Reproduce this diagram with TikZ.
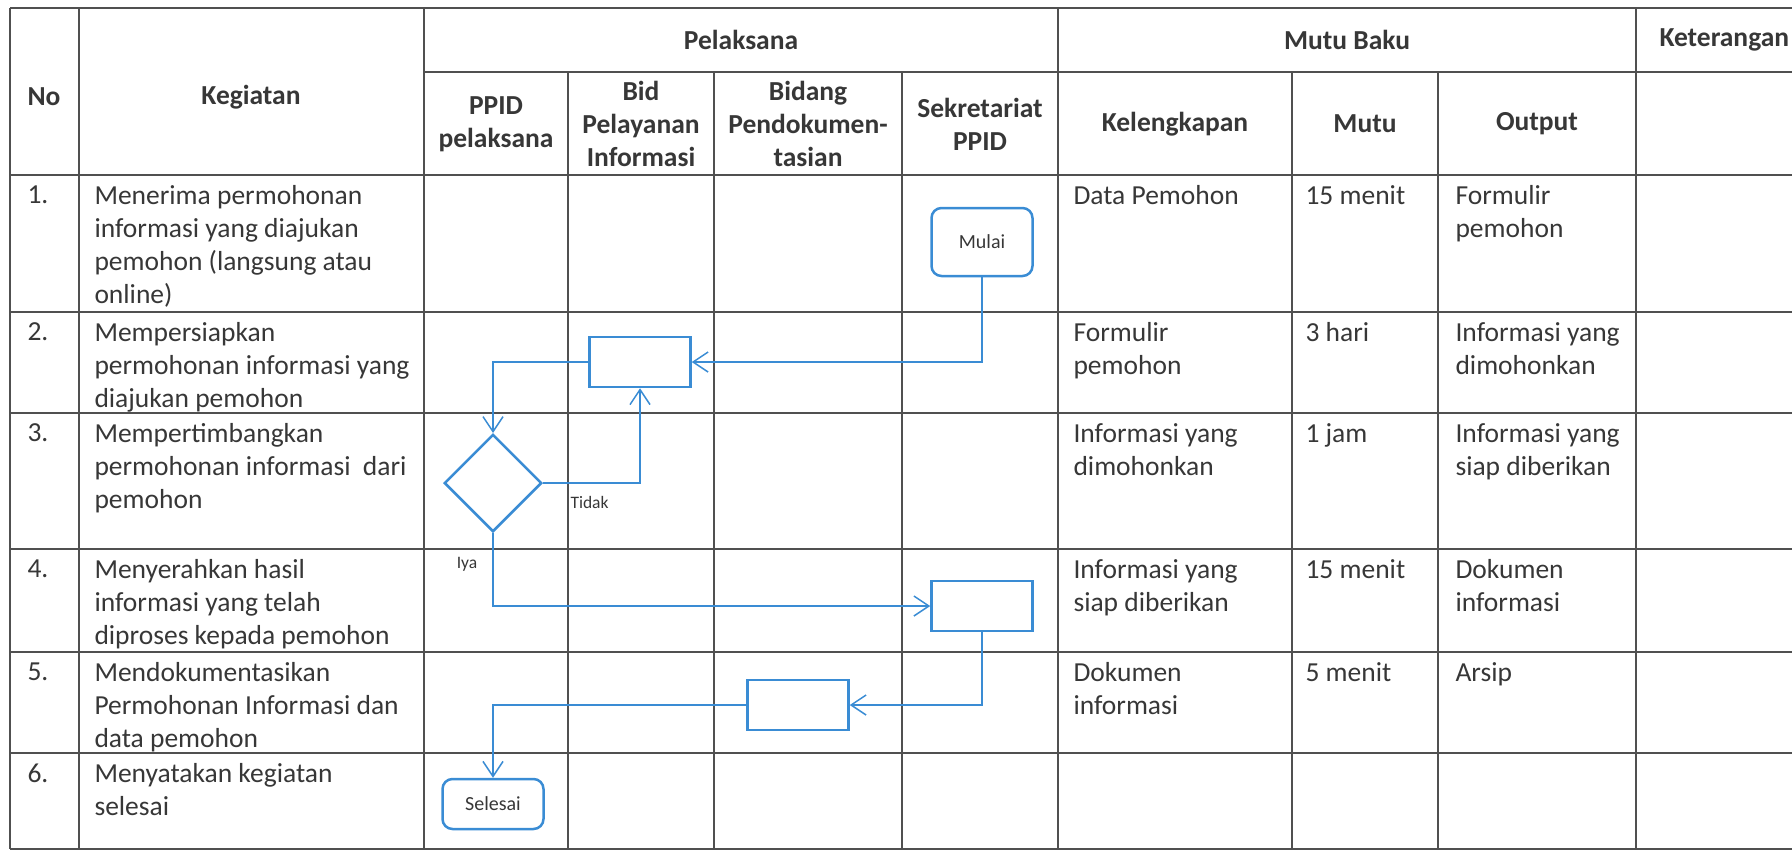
\documentclass[tikz,border=0pt]{standalone}
\usepackage{fontspec}
\setmainfont{Carlito}
\usetikzlibrary{arrows.meta,shapes.geometric}

\definecolor{flowblue}{RGB}{58,140,212}
\definecolor{inkgray}{RGB}{55,55,55}
\definecolor{rulegray}{RGB}{80,80,80}
\newcommand{\bodyfont}{\fontsize{11}{13.2}\selectfont}

\tikzset{
  tabline/.style={draw=rulegray, line width=0.5pt},
  head/.style={font=\bodyfont\bfseries, text=inkgray, align=center, inner sep=0pt},
  cell/.style={font=\bodyfont, text=inkgray, align=left, anchor=north west, inner sep=0pt},
  proc/.style={draw=flowblue, line width=1pt, minimum width=40.4pt, minimum height=20pt, inner sep=0pt},
  term/.style={proc, rounded corners=4pt, font=\fontsize{8}{9.6}\selectfont, text=inkgray},
  decide/.style={draw=flowblue, line width=1pt, diamond, minimum size=39pt, inner sep=0pt},
  flow/.style={draw=flowblue, line width=0.6pt, -{Straight Barb[length=6pt,width=8pt]}},
  tag/.style={font=\fontsize{7}{8.4}\selectfont, text=inkgray, inner sep=0pt}
}

\begin{document}
\begin{tikzpicture}[x=0.4pt, y=-0.4pt]
\useasboundingbox (0,0) rectangle (1792,854);
\clip (0,0) rectangle (1792,854);

%draw the table grid
\foreach \yy in {8,175,312,413,549,652,753,849} \draw[tabline] (10,\yy) -- (1800,\yy);
\draw[tabline] (424,72) -- (1800,72);
\foreach \xx in {10,79,424,1058,1636} \draw[tabline] (\xx,8) -- (\xx,849);
\foreach \xx in {568,714,902,1292,1438} \draw[tabline] (\xx,72) -- (\xx,849);

%header texts
\node[head] (hno) at (44,97) {No};
\node[head] (hkeg) at (251,97) {Kegiatan};
\node[head] (hpel) at (741,40) {Pelaksana};
\node[head] (hbaku) at (1347,40) {Mutu Baku};
\node[head, anchor=west] (hket) at (1659,40) {Keterangan};
\node[head] (hppid) at (496,124) {PPID\\pelaksana};
\node[head] (hbid) at (641,124) {Bid\\Pelayanan\\Informasi};
\node[head] (hdok) at (808,124) {Bidang\\Pendokumen-\\tasian};
\node[head] (hsek) at (980,124) {Sekretariat\\PPID};
\node[head] (hkel) at (1175,124) {Kelengkapan};
\node[head] (hmutu) at (1365,124) {Mutu};
\node[head] (hout) at (1537,124) {Output};

%rows of activities
\foreach \r/\yy/\keg/\kel/\mt/\out in {
  1/175/{Menerima permohonan\\informasi yang diajukan\\pemohon (langsung atau\\online)}/{Data Pemohon}/{15 menit}/{Formulir\\pemohon},
  2/312/{Mempersiapkan\\permohonan informasi yang\\diajukan pemohon}/{Formulir\\pemohon}/{3 hari}/{Informasi yang\\dimohonkan},
  3/413/{Mempertimbangkan\\permohonan informasi \ dari\\pemohon}/{Informasi yang\\dimohonkan}/{1 jam}/{Informasi yang\\siap diberikan},
  4/549/{Menyerahkan hasil\\informasi yang telah\\diproses kepada pemohon}/{Informasi yang\\siap diberikan}/{15 menit}/{Dokumen\\informasi},
  5/652/{Mendokumentasikan\\Permohonan Informasi dan\\data pemohon}/{Dokumen\\informasi}/{5 menit}/{Arsip}}
{
  \node[cell] (no\r) at (27,\yy+10) {\r.};
  \node[cell] (keg\r) at (94,\yy+10) {\keg};
  \node[cell] (kel\r) at (1073,\yy+10) {\kel};
  \node[cell] (mutu\r) at (1305,\yy+10) {\mt};
  \node[cell] (out\r) at (1455,\yy+10) {\out};
}
\node[cell] (no6) at (27,763) {6.};
\node[cell] (keg6) at (94,763) {Menyatakan kegiatan\\selesai};

%flow shapes
\node[term, minimum height=27.2pt] (mulai) at (982,242) {Mulai};
\node[proc] (prep) at (640,362) {};
\node[decide] (cek) at (493,483) {};
\node[proc] (serah) at (982,606) {};
\node[proc] (dok) at (798,705) {};
\node[term] (selesai) at (493,804) {Selesai};

%connectors
\draw[flow] (mulai.south) |- (prep.east);
\draw[flow] (prep.west) -| (cek.north);
\draw[flow] (cek.east) -| (prep.south);
\draw[flow] (cek.south) |- (serah.west);
\draw[flow] (serah.south) |- (dok.east);
\draw[flow] (dok.west) -| (selesai.north);

\node[tag, anchor=west] (tidak) at (570,502) {Tidak};
\node[tag] (iya) at (467,564) {Iya};

\end{tikzpicture}
\end{document}
